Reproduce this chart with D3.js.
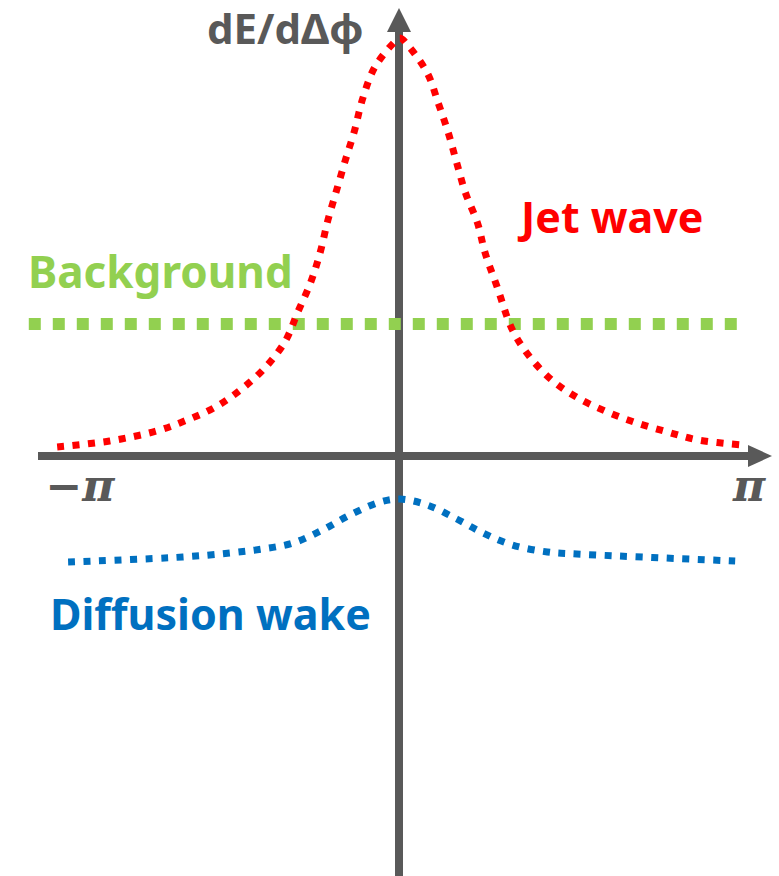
<!DOCTYPE html>
<html>
<head>
<meta charset="utf-8">
<script src="https://cdn.jsdelivr.net/npm/d3@7"></script>
<style>
  body { margin: 0; background: #fff; }
  svg { display: block; }
</style>
</head>
<body>
<script>
// jet wave (red)
const jetPhi = [-3.14, -2.66, -2.23, -1.95, -1.69, -1.45, -1.23, -1.05, -0.94, -0.82, -0.73, -0.66, -0.58, -0.5, -0.42, -0.34, -0.23, -0.05, 0, 0.07, 0.25, 0.35, 0.44, 0.52, 0.6, 0.71, 0.78, 0.89, 1.03, 1.19, 1.39, 1.63, 1.9, 2.17, 2.45, 2.73, 3.14];
const jetValue = [0.1, 0.16, 0.26, 0.37, 0.5, 0.68, 0.9, 1.16, 1.44, 1.74, 2.05, 2.37, 2.67, 2.97, 3.25, 3.59, 3.9, 4.15, 4.19, 4.12, 3.84, 3.54, 3.25, 2.94, 2.64, 2.34, 2.04, 1.7, 1.27, 1.0, 0.77, 0.59, 0.45, 0.34, 0.25, 0.17, 0.12];

// diffusion wake (blue)
const wakePhi = [-3.04, -1.99, -1.56, -1.26, -0.98, -0.71, -0.46, -0.18, 0, 0.25, 0.52, 0.76, 1.03, 1.35, 1.62, 3.07];
const wakeValue = [-1.05, -1.0, -0.96, -0.92, -0.86, -0.73, -0.58, -0.45, -0.42, -0.48, -0.62, -0.76, -0.88, -0.95, -0.97, -1.04];

// background (green), flat
const backgroundPhi = [-3.4, 3.12];
const backgroundValue = [1.33, 1.33];

const tickLabels = ["\u2212\u03c0", "\u03c0"];
const tickPhi = [-Math.PI, Math.PI];

const width = 779;
const height = 876;
const axisColor = "#595959";

const svg = d3.select("body").append("svg")
  .attr("width", width)
  .attr("height", height);

const x = d3.scaleLinear().domain([-Math.PI, Math.PI]).range([57, 743]);
const y = d3.scaleLinear().domain([-4, 4]).range([857, 57]);

const x0 = x(0) - 1;
const y0 = y(0) - 1;

// axes with arrow heads
svg.append("line")
  .attr("x1", 38).attr("x2", 750)
  .attr("y1", y0).attr("y2", y0)
  .attr("stroke", axisColor).attr("stroke-width", 8);
svg.append("path")
  .attr("d", `M748,${y0 - 11}L772,${y0}L748,${y0 + 11}Z`)
  .attr("fill", axisColor);

svg.append("line")
  .attr("x1", x0).attr("x2", x0)
  .attr("y1", height).attr("y2", 30)
  .attr("stroke", axisColor).attr("stroke-width", 8);
svg.append("path")
  .attr("d", `M${x0 - 12},32L${x0},8L${x0 + 12},32Z`)
  .attr("fill", axisColor);

const line = d3.line()
  .x((d) => x(d[0]))
  .y((d) => y(d[1]))
  .curve(d3.curveCatmullRom.alpha(0.5));

svg.append("path")
  .datum(d3.zip(backgroundPhi, backgroundValue))
  .attr("d", line)
  .attr("fill", "none")
  .attr("stroke", "#92d050")
  .attr("stroke-width", 12)
  .attr("stroke-dasharray", "12 12");

svg.append("path")
  .datum(d3.zip(jetPhi, jetValue))
  .attr("d", line)
  .attr("fill", "none")
  .attr("stroke", "#ff0000")
  .attr("stroke-width", 7)
  .attr("stroke-dasharray", "7 8.5");

svg.append("path")
  .datum(d3.zip(wakePhi, wakeValue))
  .attr("d", line)
  .attr("fill", "none")
  .attr("stroke", "#0070c0")
  .attr("stroke-width", 7)
  .attr("stroke-dasharray", "7 8.5");

// labels
const sans = "'Noto Sans', 'Open Sans', sans-serif";

svg.append("text")
  .attr("x", 207).attr("y", 44)
  .style("font-family", sans).style("font-weight", "bold")
  .style("font-size", "42px").attr("fill", axisColor)
  .text("dE/d\u0394\u03d5");

svg.append("text")
  .attr("x", 521).attr("y", 233)
  .style("font-family", sans).style("font-weight", "bold")
  .style("font-size", "43px").attr("fill", "#ff0000")
  .text("Jet wave");

svg.append("text")
  .attr("x", 28).attr("y", 288)
  .style("font-family", sans).style("font-weight", "bold")
  .style("font-size", "44px").attr("fill", "#92d050")
  .text("Background");

svg.append("text")
  .attr("x", 50).attr("y", 630)
  .style("font-family", sans).style("font-weight", "bold")
  .style("font-size", "43px").attr("fill", "#0070c0")
  .text("Diffusion wake");

svg.selectAll(".tick-label")
  .data(tickLabels)
  .enter()
  .append("text")
  .attr("class", "tick-label")
  .attr("x", (d, i) => (i === 0 ? x(tickPhi[i]) + 23 : x(tickPhi[i]) + 6))
  .attr("y", 501)
  .attr("text-anchor", "middle")
  .style("font-family", "'DejaVu Serif', serif")
  .style("font-weight", "bold").style("font-style", "italic")
  .style("font-size", "44px").attr("fill", axisColor)
  .text((d) => d);
</script>
</body>
</html>
